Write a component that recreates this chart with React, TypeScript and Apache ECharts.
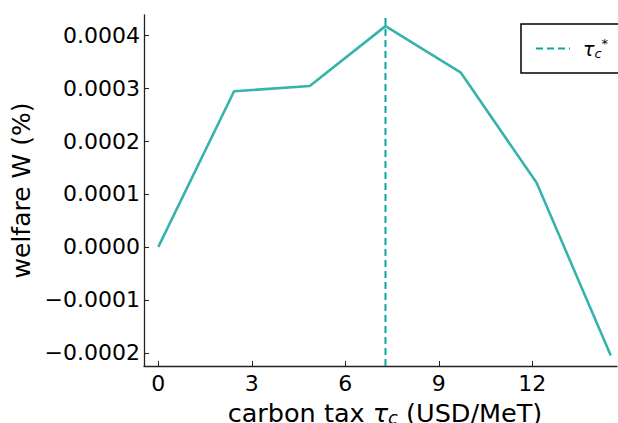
import React, { useEffect, useRef } from "react";
import * as echarts from "echarts";

const taxValues = [0, 2.43, 4.86, 7.29, 9.71, 12.14, 14.52];
const welfareValues = [0.0, 0.000294, 0.000304, 0.000417, 0.000329, 0.000121, -0.000205];
const tauStar = 7.29;
const xTicks = [0, 3, 6, 9, 12];
const yTicks = [-0.0002, -0.0001, 0.0, 0.0001, 0.0002, 0.0003, 0.0004];
const xRange = [-0.46, 14.72];
const yRange = [-0.000225, 0.000438];

const FONT = "DejaVu Sans";
const lineColor = "#37b3ad";
const dashColor = "#0fa59f";

function fmtY(v: number): string {
  const s = Math.abs(v).toFixed(4);
  return v < -1e-12 ? "\u2212" + s : s;
}

export default function App() {
  const ref = useRef<HTMLDivElement>(null);
  useEffect(() => {
    if (!ref.current) return;
    const chart = echarts.init(ref.current, undefined, { renderer: "svg" });
    chart.setOption({
      animation: false,
      backgroundColor: "#ffffff",
      textStyle: { fontFamily: FONT },
      grid: { left: 144, top: 15, right: 1, bottom: 57, containLabel: false, outerBoundsMode: "none" },
      legend: {
        left: 521,
        top: 24,
        orient: "vertical",
        data: [{ name: "tau" }],
        itemWidth: 34,
        itemHeight: 14,
        padding: [13, 19, 13, 14],
        borderColor: "#000000",
        borderWidth: 1.5,
        borderRadius: 0,
        backgroundColor: "#ffffff",
        itemStyle: { opacity: 0 },
        formatter: () => "{t|τ}{s|c}{p|*}",
        textStyle: {
          fontFamily: FONT,
          color: "#000",
          rich: {
            t: { fontSize: 19, fontStyle: "italic", fontFamily: FONT, padding: [0, 0, 0, 8] },
            s: { fontSize: 13, fontStyle: "italic", fontFamily: FONT, padding: [10, 0, 0, 0] },
            p: { fontSize: 13, fontFamily: FONT, padding: [0, 0, 10, 0] },
          },
        },
      },
      xAxis: {
        type: "value",
        min: xRange[0],
        max: xRange[1],
        name: "{n|carbon tax }{t|τ}{s|c}{n| (USD/MeT)}",
        nameLocation: "middle",
        nameGap: 32,
        nameTextStyle: {
          color: "#000",
          padding: [0, 0, 0, 9],
          rich: {
            n: { fontSize: 25.5, lineHeight: 26, fontFamily: FONT, color: "#000" },
            t: { fontSize: 25.5, lineHeight: 26, fontFamily: FONT, fontStyle: "italic", color: "#000" },
            s: { fontSize: 18, lineHeight: 16, fontFamily: FONT, fontStyle: "italic", color: "#000", padding: [10, 0, 0, 0] },
          },
        },
        axisLine: { show: true, onZero: false, lineStyle: { color: "#222", width: 1.3 } },
        axisTick: { show: true, inside: true, length: 5, customValues: xTicks, lineStyle: { color: "#222", width: 1 } },
        axisLabel: {
          customValues: xTicks,
          fontSize: 22,
          fontFamily: FONT,
          color: "#000",
          margin: 6,
          formatter: (v: number) => String(v),
        },
        splitLine: { show: false },
      },
      yAxis: {
        type: "value",
        min: yRange[0],
        max: yRange[1],
        name: "welfare W (%)",
        nameLocation: "middle",
        nameGap: 95,
        nameRotate: 90,
        nameTextStyle: { fontSize: 25, fontFamily: FONT, color: "#000" },
        axisLine: { show: true, onZero: false, lineStyle: { color: "#222", width: 1.3 } },
        axisTick: { show: true, inside: true, length: 5, customValues: yTicks, lineStyle: { color: "#222", width: 1 } },
        axisLabel: {
          customValues: yTicks,
          fontSize: 22,
          fontFamily: FONT,
          color: "#000",
          margin: 4,
          formatter: (v: number) => fmtY(v),
        },
        splitLine: { show: false },
      },
      series: [
        {
          name: "welfare",
          type: "line",
          data: taxValues.map((x, i) => [x, welfareValues[i]]),
          symbol: "none",
          lineStyle: { color: lineColor, width: 2.6 },
          itemStyle: { color: lineColor },
          z: 3,
        },
        {
          name: "tau",
          type: "line",
          data: [
            [tauStar, yRange[0]],
            [tauStar, yRange[1]],
          ],
          symbol: "none",
          lineStyle: { color: dashColor, width: 2, type: [7, 4] },
          itemStyle: { color: dashColor },
          z: 2,
        },
      ],
    });
    return () => chart.dispose();
  }, []);
  return <div ref={ref} style={{ position: "fixed", left: 0, top: 0, width: 618, height: 423 }} />;
}
